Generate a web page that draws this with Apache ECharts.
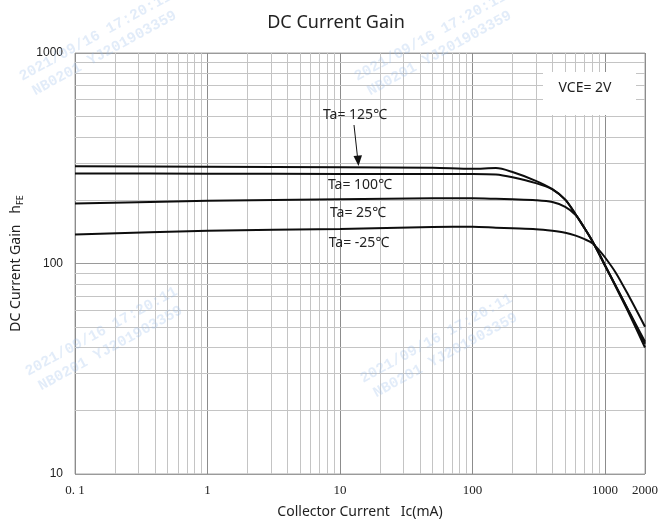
<!DOCTYPE html>
<html>
<head>
<meta charset="utf-8">
<script src="https://cdn.jsdelivr.net/npm/echarts@6/dist/echarts.min.js"></script>
<style>html,body{margin:0;padding:0;background:#fff;}#c{width:672px;height:524px;}</style>
</head>
<body>
<div id="c"></div>
<script>
// Collector current (mA)
const ic = [0.1, 1, 10, 50, 100, 150, 200, 300, 400, 500, 600, 700, 800, 900, 1000, 1200, 1500, 2000];
// DC current gain hFE per ambient temperature
const hfe125 = [290, 288, 286.5, 285, 282, 284, 272, 247, 225.5, 201, 171, 147, 128, 111.5, 97.6, 77.7, 58.7, 39.9];
const hfe100 = [268, 267, 266.5, 266.5, 266.5, 265, 257, 241, 225, 201, 171, 147, 128, 111.5, 98, 78.5, 59.5, 41.6];
const hfe25 = [192.6, 198.5, 202, 204, 204, 203, 202, 200, 196, 186, 170, 147, 128, 111, 97.5, 78.5, 60, 42.5];
const hfeM25 = [137.4, 143, 146, 149, 149.6, 148, 147, 145.6, 143, 140, 135.7, 130.5, 125, 115.8, 106.8, 90.7, 70.6, 50.1];
// minor grid values
const xMinor = [0.2,0.3,0.4,0.5,0.6,0.7,0.8,0.9,2,3,4,5,6,7,8,9,20,30,40,50,60,70,80,90,200,300,400,500,600,700,800,900];
const yMinor = [20,30,40,50,60,70,80,90,200,300,400,500,600,700,800,900];
const seriesNames = ['Ta= 125℃', 'Ta= 100℃', 'Ta= 25℃', 'Ta= -25℃'];

const pair = arr => ic.map((x, i) => [x, arr[i]]);
const chart = echarts.init(document.getElementById('c'), null, {renderer: 'canvas'});

const curveStyle = {color: '#0d0d0d', width: 2};
function curve(name, arr) {
  return {name, type: 'line', data: pair(arr), smooth: 0.3, symbol: 'none', z: 5,
    lineStyle: curveStyle, itemStyle: {color: '#0d0d0d'}, animation: false};
}

const wmText = '2021/09/16 17:20:11\nNB0201 YJ201903359';
const wmStyle = {text: wmText, font: 'bold 15px "Liberation Mono"', fill: 'rgba(150,185,235,0.28)', align: 'center', verticalAlign: 'middle', lineHeight: 19};
function wm(x, y) { return {type: 'text', x, y, rotation: 0.5, z: 100, silent: true, style: wmStyle}; }
const annoFont = '14px "Noto Sans", sans-serif';

chart.setOption({
  animation: false,
  title: {text: 'DC Current Gain', left: 'center', top: 9,
    textStyle: {fontFamily: 'Noto Sans', fontSize: 18, fontWeight: 'normal', color: '#222'}},
  grid: {left: 75, right: 27, top: 53, bottom: 48, show: true, borderColor: '#a6a6a6', borderWidth: 1, backgroundColor: '#fff'},
  xAxis: {type: 'log', logBase: 10, min: 0.1, max: 2000,
    name: 'Collector Current   Ic(mA)', nameLocation: 'middle', nameGap: 31,
    nameTextStyle: {fontFamily: 'Noto Sans', fontSize: 14, color: '#222'},
    axisLine: {show: false}, axisTick: {show: false},
    axisLabel: {margin: 10, fontFamily: 'Liberation Serif', fontSize: 13, color: '#222',
      formatter: v => v < 0.5 ? '0. 1' : String(Math.round(v))},
    splitLine: {show: true, lineStyle: {color: '#8c8c8c', width: 1}}},
  yAxis: {type: 'log', logBase: 10, min: 10, max: 1000,
    name: '{a|DC Current Gain   h}{b|FE}', nameLocation: 'middle', nameGap: 46, nameRotate: 90,
    nameTextStyle: {rich: {
      a: {fontFamily: 'Noto Sans', fontSize: 14, color: '#222', lineHeight: 18},
      b: {fontFamily: 'Noto Sans', fontSize: 9, color: '#222', lineHeight: 18, verticalAlign: 'bottom'}}},
    axisLine: {show: false}, axisTick: {show: false},
    axisLabel: {margin: 12, fontFamily: 'Liberation Sans', fontSize: 12, color: '#222',
      formatter: v => String(Math.round(v))},
    splitLine: {show: true, lineStyle: {color: '#9a9a9a', width: 1}}},
  series: [
    {type: 'line', data: [[0.1, 10]], symbol: 'none', lineStyle: {opacity: 0}, z: 1, silent: true,
      markLine: {silent: true, symbol: ['none', 'none'], label: {show: false}, animation: false,
        lineStyle: {color: '#c4c4c4', width: 1, type: 'solid'},
        data: xMinor.map(v => ({xAxis: v})).concat(yMinor.map(v => ({yAxis: v})))}},
    curve(seriesNames[0], hfe125),
    curve(seriesNames[1], hfe100),
    curve(seriesNames[2], hfe25),
    curve(seriesNames[3], hfeM25)
  ],
  graphic: [
    {type: 'rect', shape: {x: 543, y: 72, width: 93, height: 43}, style: {fill: '#fff'}, z: 50, silent: true},
    {type: 'text', x: 585, y: 88, z: 51, style: {text: 'VCE= 2V', font: annoFont, fill: '#222', align: 'center', verticalAlign: 'middle'}},
    {type: 'text', x: 355, y: 115, z: 51, style: {text: seriesNames[0], font: annoFont, fill: '#222', align: 'center', verticalAlign: 'middle'}},
    {type: 'text', x: 360, y: 185, z: 51, style: {text: seriesNames[1], font: annoFont, fill: '#222', align: 'center', verticalAlign: 'middle'}},
    {type: 'text', x: 358, y: 213, z: 51, style: {text: seriesNames[2], font: annoFont, fill: '#222', align: 'center', verticalAlign: 'middle'}},
    {type: 'text', x: 359, y: 243, z: 51, style: {text: seriesNames[3], font: annoFont, fill: '#222', align: 'center', verticalAlign: 'middle'}},
    {type: 'line', shape: {x1: 354, y1: 125, x2: 357.6, y2: 158}, style: {stroke: '#111', lineWidth: 1}, z: 51},
    {type: 'polygon', shape: {points: [[353.5, 156], [362, 155.2], [358.5, 166]]}, style: {fill: '#111'}, z: 51},
    wm(100, 45), wm(435, 45), wm(106, 340), wm(441, 347)
  ]
});
</script>
</body>
</html>
